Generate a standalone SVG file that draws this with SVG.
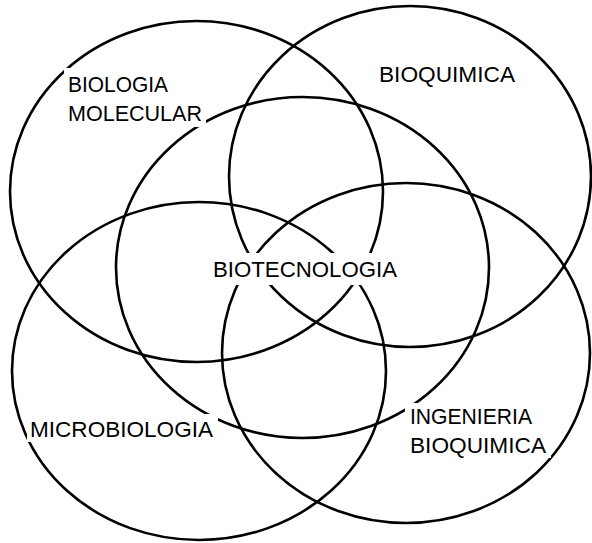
<svg xmlns="http://www.w3.org/2000/svg" width="592" height="543" viewBox="0 0 592 543">
  <style>
    .ring { fill: none; stroke: #000; stroke-width: 2.6; }
    .bg { fill: #fff; stroke: none; }
    .lbl { font-family: "Liberation Sans", Arial, sans-serif; font-size: 22px; fill: #000; }
  </style>
  <rect x="0" y="0" width="592" height="543" fill="#fff"/>
  <g id="biologia-molecular"><ellipse class="ring" cx="196.5" cy="191.5" rx="186.5" ry="170.5"/></g>
  <g id="bioquimica"><ellipse class="ring" cx="410" cy="176.5" rx="181" ry="170.5"/></g>
  <g id="biotecnologia"><ellipse class="ring" cx="302.5" cy="267.5" rx="186.5" ry="170.5"/></g>
  <g id="microbiologia"><ellipse class="ring" cx="199" cy="371" rx="187" ry="169"/></g>
  <g id="ingenieria-bioquimica"><ellipse class="ring" cx="406" cy="353" rx="184" ry="170"/></g>
  <g id="labels">
    <g id="label-biologia-molecular">
      <rect class="bg" x="64" y="68" width="142" height="59"/>
      <text class="lbl" x="68" y="92" textLength="100" lengthAdjust="spacingAndGlyphs">BIOLOGIA</text>
      <text class="lbl" x="68" y="121" textLength="134" lengthAdjust="spacingAndGlyphs">MOLECULAR</text>
    </g>
    <g id="label-bioquimica">
      <text class="lbl" x="379" y="82" textLength="136" lengthAdjust="spacingAndGlyphs">BIOQUIMICA</text>
    </g>
    <g id="label-biotecnologia">
      <rect class="bg" x="208" y="253" width="194" height="32"/>
      <text class="lbl" x="213" y="277" font-size="23" textLength="184" lengthAdjust="spacingAndGlyphs">BIOTECNOLOGIA</text>
    </g>
    <g id="label-microbiologia">
      <rect class="bg" x="27" y="414" width="191" height="28"/>
      <text class="lbl" x="30" y="437" textLength="183" lengthAdjust="spacingAndGlyphs">MICROBIOLOGIA</text>
    </g>
    <g id="label-ingenieria-bioquimica">
      <rect class="bg" x="405" y="403" width="146" height="55"/>
      <text class="lbl" x="410" y="424" textLength="122" lengthAdjust="spacingAndGlyphs">INGENIERIA</text>
      <text class="lbl" x="410" y="453" textLength="136" lengthAdjust="spacingAndGlyphs">BIOQUIMICA</text>
    </g>
  </g>
</svg>
